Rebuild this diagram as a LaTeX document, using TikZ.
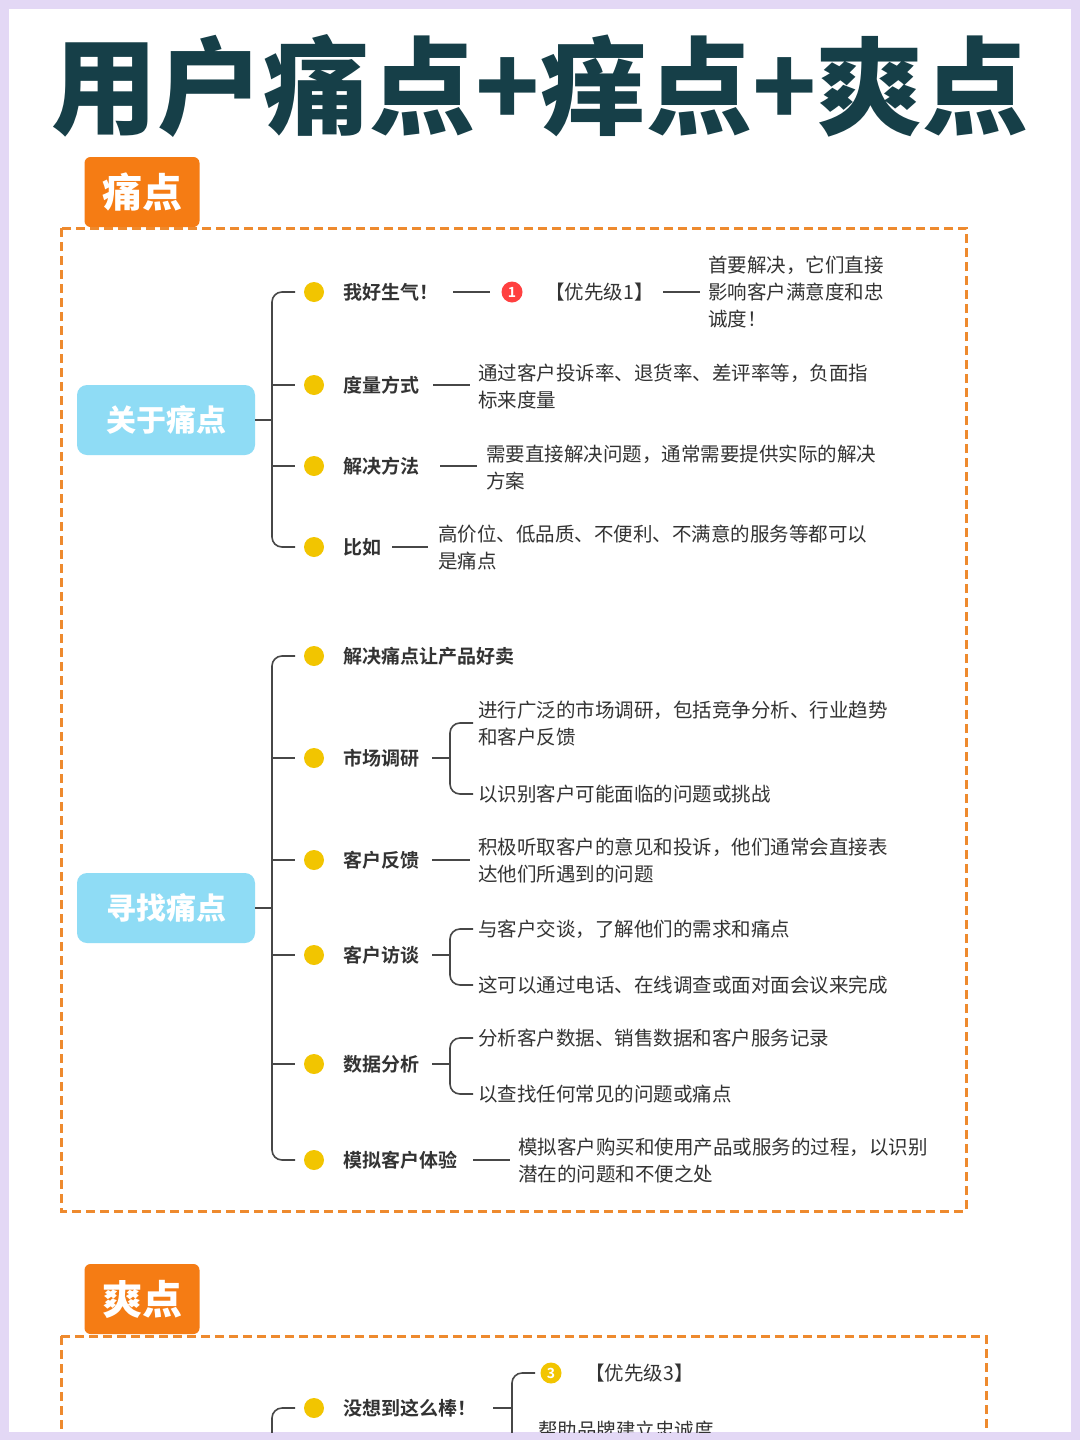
\documentclass[tikz,border=0pt]{standalone}
\usepackage{fontspec}
\setmainfont{Noto Sans CJK SC}
\newfontfamily\cjkb{Noto Sans CJK SC Bold}
\newfontfamily\cjkh{Noto Sans CJK SC Black}
\definecolor{lav}{HTML}{E3D8F5}
\definecolor{org}{HTML}{F57C14}
\definecolor{orgd}{HTML}{EE8A2E}
\definecolor{sky}{HTML}{8FDCF5}
\definecolor{dot}{HTML}{F2C500}
\definecolor{ttl}{HTML}{163F48}
\definecolor{txt}{HTML}{333333}
\tikzset{
  lab/.style={anchor=west,inner sep=0pt,font=\cjkb\fontsize{19}{27}\selectfont,text=txt},
  body/.style={anchor=west,inner sep=0pt,align=left,font=\fontsize{19.5}{27}\selectfont,text=txt},
  yd/.style={circle,fill=dot,minimum size=20pt,inner sep=0pt},
  ln/.style={draw=txt!90,line width=1.6pt},
  tab/.style={fill=org,rounded corners=6pt,text=white,font=\cjkh\fontsize{40}{40}\selectfont,minimum width=115pt,minimum height=70pt,inner sep=0pt},
  topic/.style={fill=sky,rounded corners=10pt,text=white,font=\cjkh\fontsize{30}{30}\selectfont,minimum width=178pt,minimum height=70pt,inner sep=0pt},
  frame/.style={draw=orgd,line width=3pt,dash pattern=on 9pt off 5pt},
}
\newcommand\brk[3]{% x, top, bottom
  \draw[ln] (#1+23,#2) -- (#1+10,#2) to[out=180,in=90] (#1,#2+10) -- (#1,#3-10) to[out=-90,in=180] (#1+10,#3) -- (#1+23,#3);}
\begin{document}
\begin{tikzpicture}[x=1pt,y=-1pt]
\fill[lav] (0,0) rectangle (1080,1440);
\fill[white] (9,9) rectangle (1071,1432);
\useasboundingbox (0,0) rectangle (1080,1440);
\node[text=ttl,font=\cjkh\fontsize{106}{106}\selectfont,inner sep=0pt] (title) at (540,86) {用户痛点+痒点+爽点};
% section 1
\node[tab] (tab1) at (142,192) {痛点};
\draw[frame] (61,228) rectangle (966,1211);
\node[topic] (t1) at (166,420) {关于痛点};
\draw[ln] (t1.east) -- (272,420);
\brk{272}{292}{547}
\foreach \y in {385,466} \draw[ln] (272,\y) -- (295,\y);
\foreach \y/\n in {292/a,385/b,466/c,547/d} \node[yd] (d\n) at (314,\y) {};
\node[lab] (a) at (343,292) {我好生气！};
\node[circle,fill=red!75!white,text=white,inner sep=0pt,minimum size=21pt,font=\cjkb\fontsize{14}{14}\selectfont] (p1) at (512,292) {1};
\draw[ln] (453,292) -- (490,292);
\node[body] (a1) at (545,292) {【优先级1】};
\draw[ln] (663,292) -- (700,292);
\node[body] (a2) at (708,292) {首要解决，它们直接\\影响客户满意度和忠\\诚度！};
\node[lab] (b) at (343,385) {度量方式};
\draw[ln] (433,385) -- (470,385);
\node[body] (b1) at (478,386) {通过客户投诉率、退货率、差评率等，负面指\\标来度量};
\node[lab] (c) at (343,466) {解决方法};
\draw[ln] (440,466) -- (477,466);
\node[body] (c1) at (486,468) {需要直接解决问题，通常需要提供实际的解决\\方案};
\node[lab] (d) at (343,547) {比如};
\draw[ln] (392,547) -- (428,547);
\node[body] (d1) at (438,548) {高价位、低品质、不便利、不满意的服务等都可以\\是痛点};
% 寻找痛点
\node[topic] (t2) at (166,908) {寻找痛点};
\draw[ln] (t2.east) -- (272,908);
\brk{272}{656}{1160}
\foreach \y in {758,860,955,1064} \draw[ln] (272,\y) -- (295,\y);
\foreach \y/\n in {656/e,758/f,860/g,955/h,1064/i,1160/j} \node[yd] (d\n) at (314,\y) {};
\node[lab] (e) at (343,656) {解决痛点让产品好卖};
\node[lab] (f) at (343,758) {市场调研};
\draw[ln] (432,758) -- (450,758);
\brk{450}{723}{794}
\node[body] (f1) at (478,724) {进行广泛的市场调研，包括竞争分析、行业趋势\\和客户反馈};
\node[body] (f2) at (478,794) {以识别客户可能面临的问题或挑战};
\node[lab] (g) at (343,860) {客户反馈};
\draw[ln] (432,860) -- (470,860);
\node[body] (g1) at (478,861) {积极听取客户的意见和投诉，他们通常会直接表\\达他们所遇到的问题};
\node[lab] (h) at (343,955) {客户访谈};
\draw[ln] (432,955) -- (450,955);
\brk{450}{929}{985}
\node[body] (h1) at (478,929) {与客户交谈，了解他们的需求和痛点};
\node[body] (h2) at (478,985) {这可以通过电话、在线调查或面对面会议来完成};
\node[lab] (i) at (343,1064) {数据分析};
\draw[ln] (432,1064) -- (450,1064);
\brk{450}{1038}{1094}
\node[body] (i1) at (478,1038) {分析客户数据、销售数据和客户服务记录};
\node[body] (i2) at (478,1094) {以查找任何常见的问题或痛点};
\node[lab] (j) at (343,1160) {模拟客户体验};
\draw[ln] (473,1160) -- (510,1160);
\node[body] (j1) at (518,1161) {模拟客户购买和使用产品或服务的过程，以识别\\潜在的问题和不便之处};
% section 2
\begin{scope}
\clip (9,9) rectangle (1071,1432);
\node[tab] (tab2) at (142,1299) {爽点};
\draw[frame] (61,1336) -- (986,1336) -- (986,1460);
\draw[frame] (61,1336) -- (61,1460);
\node[yd] (dk) at (314,1408) {};
\draw[ln] (295,1408) -- (282,1408) to[out=180,in=90] (272,1418) -- (272,1460);
\node[lab] (k) at (343,1408) {没想到这么棒！};
\draw[ln] (493,1408) -- (512,1408);
\draw[ln] (535,1373) -- (522,1373) to[out=180,in=90] (512,1383) -- (512,1460);
\node[circle,fill=dot,text=white,inner sep=0pt,minimum size=21pt,font=\cjkb\fontsize{14}{14}\selectfont] (p3) at (551,1373) {3};
\node[body] (k1) at (585,1373) {【优先级3】};
\node[body] (k2) at (538,1430) {帮助品牌建立忠诚度};
\end{scope}
\end{tikzpicture}
\end{document}
